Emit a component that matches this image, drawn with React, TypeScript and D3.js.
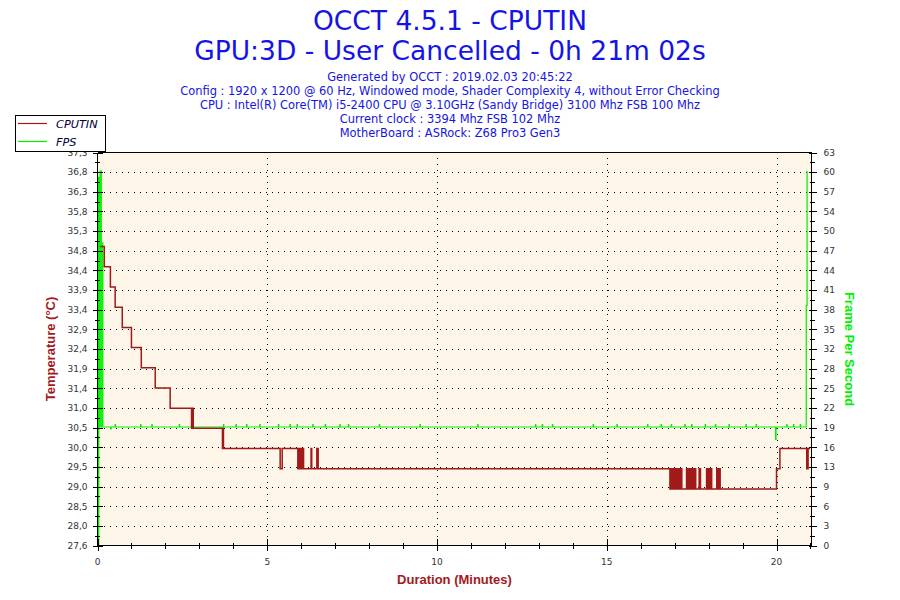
import React from 'react';
import * as d3 from 'd3';

const titleLines = ['OCCT 4.5.1 - CPUTIN', 'GPU:3D - User Cancelled - 0h 21m 02s'];
const infoLines = [
  'Generated by OCCT : 2019.02.03 20:45:22',
  'Config : 1920 x 1200 @ 60 Hz, Windowed mode, Shader Complexity 4, without Error Checking',
  'CPU : Intel(R) Core(TM) i5-2400 CPU @ 3.10GHz (Sandy Bridge) 3100 Mhz FSB 100 Mhz',
  'Current clock : 3394 Mhz FSB 102 Mhz',
  'MotherBoard : ASRock: Z68 Pro3 Gen3',
];
const seriesNames = ['CPUTIN', 'FPS'];
const axisTitles = ['Temperature (°C)', 'Frame Per Second', 'Duration (Minutes)'];
const tempTickLabels = ['27,6', '28,0', '28,5', '29,0', '29,5', '30,0', '30,5', '31,0', '31,4', '31,9', '32,4', '32,9', '33,4', '33,9', '34,4', '34,8', '35,3', '35,8', '36,3', '36,8', '37,3'];
const fpsTickLabels = ['0', '3', '6', '9', '13', '16', '19', '22', '25', '28', '32', '35', '38', '41', '44', '47', '50', '54', '57', '60', '63'];
const timeTickValues = [0, 5, 10, 15, 20];
const timeTickLabels = ['0', '5', '10', '15', '20'];
const timeMinorTicks = [1, 2, 3, 4, 6, 7, 8, 9, 11, 12, 13, 14, 16, 17, 18, 19, 21];
const timeDomain = [0, 21.03];
const tempDomain = [27.6, 37.33];
const fpsDomain = [0, 63];

// CPUTIN temperature (°C), change points [minute, value]
const cputin: [number, number][] = [
  [0.08, 35.0], [0.2, 34.5], [0.38, 34.0], [0.52, 33.5], [0.73, 33.0], [1.0, 32.5],
  [1.29, 32.0], [1.7, 31.5], [2.14, 31.0], [2.77, 30.5], [2.8, 31.0], [2.82, 30.5],
  [3.68, 30.0], [3.69, 30.5], [3.71, 30.0], [5.38, 29.5], [5.44, 30.0],
  [5.9, 29.5], [5.92, 30.0], [5.94, 29.5], [5.96, 30.0], [5.97, 29.5], [5.99, 30.0],
  [6.0, 29.5], [6.02, 30.0], [6.04, 29.5], [6.05, 30.0], [6.07, 29.5],
  [6.29, 30.0], [6.31, 29.5], [6.46, 30.0], [6.5, 29.5],
  [16.86, 29.0], [16.88, 29.5], [16.9, 29.0], [16.92, 29.5], [16.95, 29.0], [16.97, 29.5],
  [16.99, 29.0], [17.01, 29.5], [17.04, 29.0], [17.06, 29.5], [17.09, 29.0], [17.1, 29.5],
  [17.13, 29.0], [17.15, 29.5], [17.18, 29.0], [17.19, 29.5], [17.21, 29.0],
  [17.35, 29.5], [17.37, 29.0], [17.4, 29.5], [17.42, 29.0], [17.45, 29.5], [17.47, 29.0],
  [17.5, 29.5], [17.52, 29.0], [17.55, 29.5], [17.57, 29.0], [17.6, 29.5], [17.62, 29.0],
  [17.72, 29.5], [17.76, 29.0],
  [17.94, 29.5], [17.96, 29.0], [18.0, 29.5], [18.02, 29.0], [18.06, 29.5], [18.09, 29.0],
  [18.24, 29.5], [18.26, 29.0], [18.29, 29.5], [18.31, 29.0], [18.32, 29.5], [18.34, 29.0],
  [20.0, 29.5], [20.1, 30.0], [20.89, 29.5], [20.93, 30.0], [20.99, 30.0],
];

// FPS, change points [minute, value]
const fps: [number, number][] = [
  [0, 0], [0.012, 59], [0.024, 0], [0.036, 59], [0.05, 19],
  [0.074, 60], [0.112, 19], [0.152, 48.5], [0.156, 19],
  [0.39, 18.7], [0.4, 19], [0.52, 19.4], [0.53, 19], [1.27, 19.4], [1.28, 19],
  [1.6, 19.4], [1.61, 19], [2.41, 19.4], [2.42, 19], [3.71, 19.4], [3.72, 19],
  [4.08, 19.4], [4.09, 19], [4.39, 19.4], [4.4, 19], [4.78, 19.4], [4.79, 19],
  [5.33, 19.4], [5.34, 19], [5.67, 19.4], [5.68, 19], [5.88, 19.4], [5.89, 19],
  [6.34, 19.4], [6.35, 19], [6.71, 19.4], [6.72, 19], [7.14, 19.4], [7.15, 19],
  [7.39, 19.4], [7.4, 19], [8.3, 19.4], [8.31, 19], [9.5, 19.4], [9.51, 19],
  [11.2, 19.4], [11.21, 19], [12.9, 19.4], [12.91, 19], [13.1, 19.4], [13.11, 19],
  [13.4, 19.4], [13.41, 19], [14.6, 19.4], [14.61, 19], [15.3, 19.4], [15.31, 19],
  [16.2, 19.4], [16.21, 19], [16.6, 19.4], [16.61, 19], [16.9, 19.4], [16.91, 19],
  [17.3, 19.4], [17.31, 19], [17.5, 19.4], [17.51, 19], [17.9, 19.4], [17.91, 19],
  [18.2, 19.4], [18.21, 19], [18.6, 19.4], [18.61, 19], [19.1, 19.4], [19.11, 19],
  [19.4, 19.4], [19.41, 19], [19.97, 17.0], [19.985, 19], [20.3, 19.4], [20.31, 19],
  [20.5, 19.4], [20.51, 19], [20.7, 19.4], [20.71, 19], [20.875, 38.5], [20.9, 60], [20.905, 60],
];

const L = 97.5, R = 811.5, T = 152.5, B = 545.5;
const SANS = "'DejaVu Sans', Verdana, sans-serif";
const ARIAL = "'Liberation Sans', Arial, sans-serif";
const RED = '#A01A1A';
const GREEN = '#00F000';
const BLUE = '#1414E6';
const LABEL_RED = '#A3191E';

export default function App() {
  const x = d3.scaleLinear().domain(timeDomain).range([L, R]);
  const yT = d3.scaleLinear().domain(tempDomain).range([B, T]);
  const yF = d3.scaleLinear().domain(fpsDomain).range([B, T]);

  const tempTicks = tempTickLabels.map((_, i) => tempDomain[0] + (i * (tempDomain[1] - tempDomain[0])) / (tempTickLabels.length - 1));
  const tempMinor = tempTicks.slice(1).map((v, i) => (v + tempTicks[i]) / 2);
  const fpsTicks = fpsTickLabels.map((_, i) => fpsDomain[0] + (i * (fpsDomain[1] - fpsDomain[0])) / (fpsTickLabels.length - 1));
  const fpsMinor = fpsTicks.slice(1).map((v, i) => (v + fpsTicks[i]) / 2);

  const redLine = d3.line<[number, number]>().x(d => x(d[0])).y(d => yT(d[1])).curve(d3.curveStepAfter);
  const greenLine = d3.line<[number, number]>().x(d => x(d[0])).y(d => yF(d[1])).curve(d3.curveStepAfter);

  const rowY = (v: number) => Math.round(v) + 0.5;

  return (
    <svg width={900} height={600} style={{ position: 'absolute', left: 0, top: 0, background: '#fff' }}>
      <rect x={0} y={0} width={900} height={600} fill="#ffffff" />
      {/* titles */}
      {titleLines.map((t, i) => (
        <text key={t} x={450} y={30 + i * 30} textAnchor="middle" fontFamily={SANS} fontSize={26.5} fill={BLUE}>{t}</text>
      ))}
      {infoLines.map((t, i) => (
        <text key={t} x={450} y={80.5 + i * 14} textAnchor="middle" fontFamily={SANS} fontSize={11.45} fill={BLUE}>{t}</text>
      ))}

      {/* plot background */}
      <rect x={L} y={T} width={R - L} height={B - T} fill="#FDF6E9" />

      {/* grid */}
      <g stroke="#000" strokeWidth={1} strokeDasharray="1,5" shapeRendering="crispEdges">
        {tempTicks.slice(1, -1).map((v, i) => (
          <line key={'h' + i} x1={L + 6} x2={R} y1={rowY(yT(v))} y2={rowY(yT(v))} />
        ))}
        {timeTickValues.slice(1).map(v => (
          <line key={'v' + v} x1={Math.round(x(v)) + 0.5} x2={Math.round(x(v)) + 0.5} y1={T + 5} y2={B} />
        ))}
      </g>

      {/* series */}
      <path d={greenLine(fps) || ''} fill="none" stroke={GREEN} strokeWidth={1.2} />
      <path d={redLine(cputin) || ''} fill="none" stroke={RED} strokeWidth={1.5} />

      {/* frame */}
      <g stroke="#000" strokeWidth={1.2} shapeRendering="crispEdges" fill="none">
        <line x1={L} x2={R} y1={T} y2={T} />
        <line x1={L} x2={R} y1={B} y2={B} />
        <line x1={L} x2={L} y1={T} y2={B + 1} />
        <line x1={R} x2={R} y1={T} y2={B + 1} />
      </g>

      {/* axis ticks */}
      <g stroke="#000" strokeWidth={1} shapeRendering="crispEdges">
        {tempTicks.map((v, i) => (
          <line key={'lt' + i} x1={L - 5} x2={L + 5} y1={rowY(yT(v))} y2={rowY(yT(v))} />
        ))}
        {tempMinor.map((v, i) => (
          <line key={'lm' + i} x1={L - 3} x2={L + 2} y1={rowY(yT(v))} y2={rowY(yT(v))} />
        ))}
        {fpsTicks.map((v, i) => (
          <line key={'rt' + i} x1={R - 3} x2={R + 5} y1={rowY(yF(v))} y2={rowY(yF(v))} />
        ))}
        {fpsMinor.map((v, i) => (
          <line key={'rm' + i} x1={R - 2} x2={R + 3} y1={rowY(yF(v))} y2={rowY(yF(v))} />
        ))}
        {timeTickValues.map(v => (
          <line key={'bt' + v} x1={Math.round(x(v)) + 0.5} x2={Math.round(x(v)) + 0.5} y1={B - 7} y2={B + 5} />
        ))}
        {timeMinorTicks.map(v => (
          <line key={'bm' + v} x1={Math.round(x(v)) + 0.5} x2={Math.round(x(v)) + 0.5} y1={B - 3} y2={B + 3} />
        ))}
      </g>

      {/* tick labels */}
      <g fontFamily={SANS} fontSize={9} fill="#333">
        {tempTickLabels.map((t, i) => (
          <text key={'tl' + i} x={L - 10} y={yT(tempTicks[i]) + 3.3} textAnchor="end">{t}</text>
        ))}
        {fpsTickLabels.map((t, i) => (
          <text key={'fl' + i} x={R + 12} y={yF(fpsTicks[i]) + 3.3} textAnchor="start">{t}</text>
        ))}
        {timeTickLabels.map((t, i) => (
          <text key={'xl' + i} x={x(timeTickValues[i])} y={B + 19} textAnchor="middle">{t}</text>
        ))}
      </g>

      {/* axis titles */}
      <text transform={`translate(55,${(T + B) / 2}) rotate(-90)`} textAnchor="middle" fontFamily={ARIAL} fontWeight="bold" fontSize={13} fill={LABEL_RED}>{axisTitles[0]}</text>
      <text transform={`translate(845,${(T + B) / 2}) rotate(90)`} textAnchor="middle" fontFamily={ARIAL} fontWeight="bold" fontSize={13} fill={GREEN}>{axisTitles[1]}</text>
      <text x={(L + R) / 2} y={584} textAnchor="middle" fontFamily={ARIAL} fontWeight="bold" fontSize={13} fill={LABEL_RED}>{axisTitles[2]}</text>

      {/* legend */}
      <rect x={15.5} y={115.5} width={90} height={36} fill="#fff" stroke="#000" strokeWidth={1} />
      <line x1={18} x2={47} y1={123.5} y2={123.5} stroke={RED} strokeWidth={1.2} />
      <line x1={18} x2={47} y1={141.5} y2={141.5} stroke={GREEN} strokeWidth={1.2} />
      <text x={56} y={127.5} fontFamily={SANS} fontStyle="italic" fontSize={11.3} fill="#000040">{seriesNames[0]}</text>
      <text x={56} y={145.5} fontFamily={SANS} fontStyle="italic" fontSize={11.3} fill="#000040">{seriesNames[1]}</text>
    </svg>
  );
}
